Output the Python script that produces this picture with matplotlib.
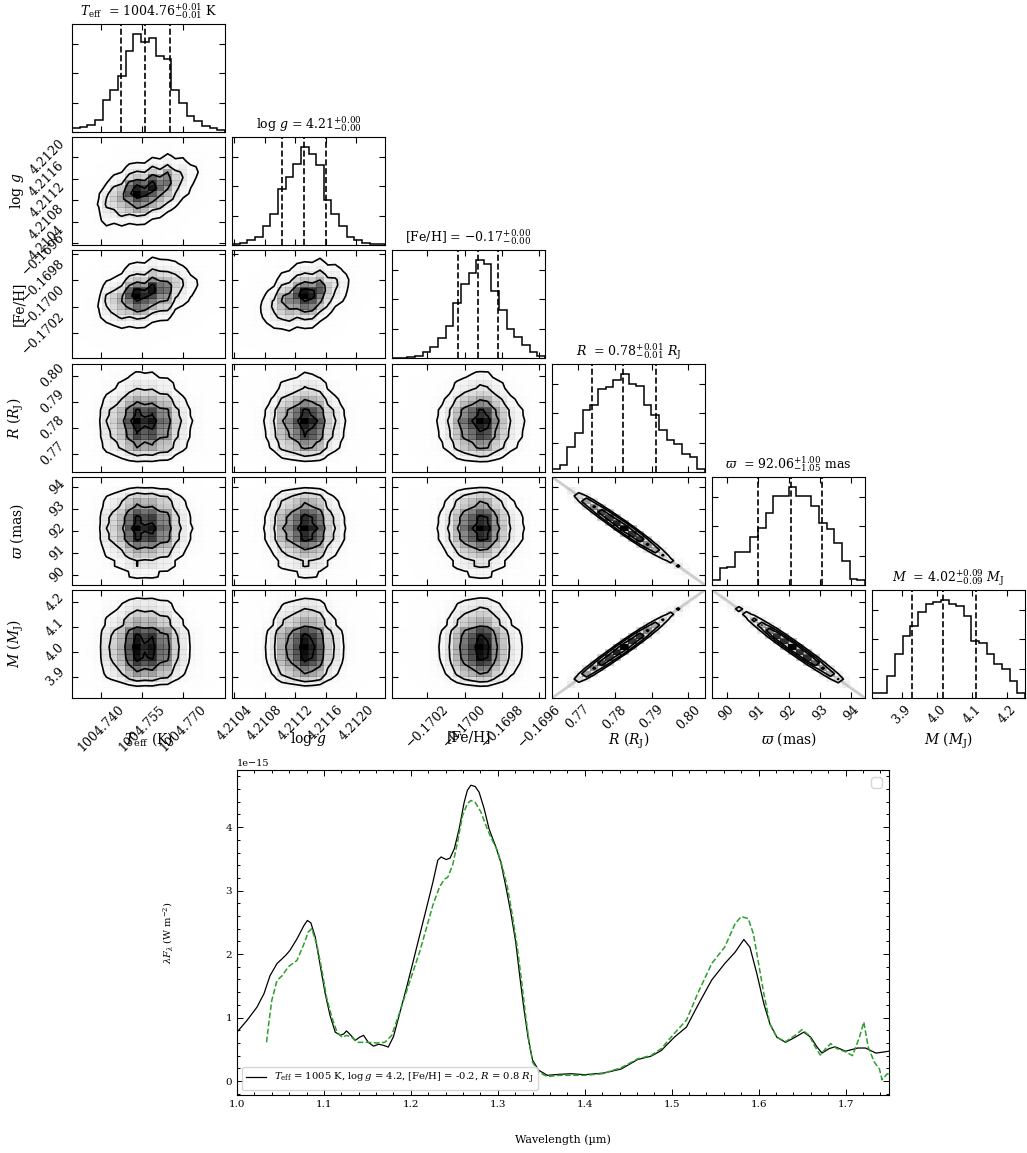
import numpy as np
import matplotlib
matplotlib.use("Agg")
import matplotlib.pyplot as plt
from matplotlib.colors import LinearSegmentedColormap, ListedColormap
from matplotlib.ticker import MaxNLocator, MultipleLocator

plt.rcParams.update({
    "font.family": "serif",
    "font.serif": ["DejaVu Serif"],
    "mathtext.fontset": "dejavuserif",
    "xtick.direction": "in",
    "ytick.direction": "in",
    "xtick.top": True,
    "ytick.right": True,
})

# ---------------- posterior summary (corner) ----------------
labels = [r"$T_{\rm eff}$ (K)", r"$\log\,g$", "[Fe/H]",
          r"$R$ ($R_{\rm J}$)", r"$\varpi$ (mas)", r"$M$ ($M_{\rm J}$)"]
titles = [r"$T_{\rm eff}$  = $1004.76^{+0.01}_{-0.01}$ K",
          r"$\log\,g$ = $4.21^{+0.00}_{-0.00}$",
          r"[Fe/H] = $-0.17^{+0.00}_{-0.00}$",
          r"$R$  = $0.78^{+0.01}_{-0.01}$ $R_{\rm J}$",
          r"$\varpi$  = $92.06^{+1.00}_{-1.05}$ mas",
          r"$M$  = $4.02^{+0.09}_{-0.09}$ $M_{\rm J}$"]

ranges = [(1004.7296, 1004.7851), (4.21037, 4.21238), (-0.17039, -0.16957),
          (0.7630, 0.8045), (89.53, 94.45), (3.815, 4.250)]

# 16th, 50th, 84th percentiles
quantiles = [(1004.7475, 1004.7561, 1004.7651),
             (4.21103, 4.21132, 4.21160),
             (-0.170037, -0.169928, -0.169823),
             (0.7738, 0.7823, 0.7912),
             (91.01, 92.06, 93.06),
             (3.930, 4.018, 4.110)]

ticks = [[1004.740, 1004.755, 1004.770],
         [4.2104, 4.2108, 4.2112, 4.2116, 4.2120],
         [-0.1702, -0.1700, -0.1698, -0.1696],
         [0.77, 0.78, 0.79, 0.80],
         [90, 91, 92, 93, 94],
         [3.9, 4.0, 4.1, 4.2]]
tick_labels = [["1004.740", "1004.755", "1004.770"],
               ["4.2104", "4.2108", "4.2112", "4.2116", "4.2120"],
               ["\u22120.1702", "\u22120.1700", "\u22120.1698", "\u22120.1696"],
               ["0.77", "0.78", "0.79", "0.80"],
               ["90", "91", "92", "93", "94"],
               ["3.9", "4.0", "4.1", "4.2"]]

# 20-bin marginal histograms (relative counts)
hist_teff = [0.044, 0.05, 0.07, 0.12, 0.33, 0.43, 0.57, 0.82, 1.0, 0.92,
             0.96, 0.77, 0.74, 0.43, 0.30, 0.16, 0.11, 0.06, 0.044, 0.02]
hist_logg = [0.01, 0.024, 0.05, 0.085, 0.19, 0.32, 0.57, 0.69, 0.83, 1.0,
             0.93, 0.81, 0.46, 0.32, 0.19, 0.085, 0.05, 0.024, 0.01, 0.007]
hist_feh = [0.0, 0.005, 0.015, 0.025, 0.06, 0.11, 0.2, 0.33, 0.56, 0.75,
            0.87, 1.0, 0.955, 0.68, 0.49, 0.30, 0.21, 0.13, 0.06, 0.025]
hist_radius = [0.034, 0.068, 0.254, 0.397, 0.627, 0.678, 0.847, 0.864, 0.932, 1.0,
               0.898, 0.881, 0.678, 0.576, 0.424, 0.322, 0.288, 0.186, 0.153, 0.034]
hist_plx = [0.048, 0.178, 0.185, 0.332, 0.332, 0.486, 0.579, 0.733, 0.908, 0.908,
            1.0, 0.908, 0.908, 0.801, 0.630, 0.572, 0.425, 0.247, 0.065, 0.055]
hist_mass = [0.051, 0.051, 0.223, 0.445, 0.634, 0.736, 0.873, 0.959, 0.976, 1.0,
             0.959, 0.932, 0.839, 0.582, 0.565, 0.445, 0.342, 0.291, 0.171, 0.051]
hists = [hist_teff, hist_logg, hist_feh, hist_radius, hist_plx, hist_mass]

# tilt of the joint distributions (y-bins per x-bin); missing = uncorrelated
tilts = {(1, 0): 0.45, (2, 0): 0.3, (2, 1): 0.45}
# pairs locked to a tight line: +1 rising, -1 falling
linear_pairs = {(4, 3): -1, (5, 3): 1, (5, 4): -1}

# ---------------- spectrum (flux in 1e-15 W m^-2) ----------------
wave_model = [1.000, 1.0115, 1.023, 1.031, 1.038, 1.046, 1.056, 1.061, 1.069, 1.077,
              1.081, 1.085, 1.090, 1.096, 1.1015, 1.107, 1.113, 1.119, 1.123, 1.126,
              1.131, 1.136, 1.141, 1.1456, 1.151, 1.157, 1.163, 1.169, 1.174, 1.180,
              1.187, 1.1947, 1.2024, 1.210, 1.2177, 1.2253, 1.231, 1.2348, 1.2405, 1.245,
              1.250, 1.2555, 1.2613, 1.265, 1.269, 1.274, 1.2785, 1.2843, 1.290, 1.2977,
              1.3034, 1.309, 1.3149, 1.3206, 1.3252, 1.330, 1.335, 1.340, 1.347, 1.357,
              1.370, 1.384, 1.400, 1.422, 1.442, 1.461, 1.476, 1.488, 1.503, 1.517,
              1.530, 1.546, 1.561, 1.573, 1.583, 1.590, 1.598, 1.606, 1.613, 1.621,
              1.631, 1.642, 1.652, 1.660, 1.667, 1.673, 1.681, 1.688, 1.700, 1.714,
              1.723, 1.735, 1.750]
flux_model = [0.77, 0.955, 1.165, 1.375, 1.66, 1.85, 1.98, 2.06, 2.24, 2.45,
              2.53, 2.49, 2.27, 1.80, 1.375, 1.035, 0.77, 0.72, 0.745, 0.79,
              0.72, 0.64, 0.69, 0.72, 0.61, 0.55, 0.58, 0.56, 0.535, 0.70,
              1.06, 1.455, 1.87, 2.29, 2.71, 3.13, 3.48, 3.53, 3.49, 3.51,
              3.66, 3.97, 4.39, 4.58, 4.66, 4.64, 4.55, 4.29, 3.97, 3.69,
              3.45, 3.08, 2.66, 2.19, 1.66, 1.14, 0.67, 0.33, 0.17, 0.09,
              0.105, 0.115, 0.10, 0.126, 0.19, 0.34, 0.39, 0.48, 0.69, 0.85,
              1.19, 1.59, 1.85, 2.03, 2.23, 2.11, 1.69, 1.22, 0.90, 0.69,
              0.61, 0.69, 0.77, 0.69, 0.54, 0.44, 0.51, 0.54, 0.47, 0.52,
              0.52, 0.44, 0.47]

wave_obs = [1.034, 1.036, 1.040, 1.046, 1.052, 1.059, 1.069, 1.077, 1.082, 1.086,
            1.092, 1.098, 1.103, 1.109, 1.115, 1.121, 1.126, 1.132, 1.138, 1.149,
            1.161, 1.170, 1.178, 1.187, 1.1947, 1.2024, 1.210, 1.2177, 1.2253, 1.233,
            1.2386, 1.2424, 1.248, 1.2536, 1.2594, 1.265, 1.269, 1.274, 1.2805, 1.2862,
            1.292, 1.2996, 1.3053, 1.311, 1.3168, 1.3226, 1.3275, 1.332, 1.336, 1.340,
            1.347, 1.357, 1.370, 1.384, 1.400, 1.420, 1.442, 1.461, 1.476, 1.488,
            1.503, 1.517, 1.530, 1.546, 1.561, 1.573, 1.580, 1.588, 1.594, 1.600,
            1.606, 1.613, 1.621, 1.631, 1.642, 1.650, 1.658, 1.665, 1.671, 1.677,
            1.683, 1.690, 1.700, 1.708, 1.716, 1.721, 1.726, 1.733, 1.739, 1.742,
            1.748, 1.750]
flux_obs = [0.61, 0.85, 1.27, 1.585, 1.66, 1.80, 1.90, 2.16, 2.35, 2.40,
            2.14, 1.72, 1.32, 1.01, 0.77, 0.69, 0.72, 0.69, 0.61, 0.61,
            0.60, 0.61, 0.72, 1.08, 1.40, 1.72, 2.03, 2.40, 2.77, 3.06,
            3.18, 3.21, 3.40, 3.76, 4.18, 4.37, 4.42, 4.39, 4.24, 4.03,
            3.84, 3.63, 3.37, 3.06, 2.61, 2.09, 1.56, 1.03, 0.62, 0.30,
            0.14, 0.07, 0.09, 0.09, 0.09, 0.115, 0.21, 0.35, 0.40, 0.51,
            0.75, 0.96, 1.38, 1.85, 2.11, 2.48, 2.59, 2.56, 2.32, 1.85,
            1.38, 0.90, 0.69, 0.62, 0.72, 0.81, 0.72, 0.54, 0.41, 0.51,
            0.59, 0.51, 0.46, 0.40, 0.69, 0.93, 0.54, 0.30, 0.19, 0.02,
            0.115, 0.105]

model_label = (r"$T_{\rm eff}$ = 1005 K, $\log g$ = 4.2, [Fe/H] = -0.2, "
               r"$R$ = 0.8 $R_{\rm J}$")

# ---------------- helpers ----------------
sigma_levels = 1.0 - np.exp(-0.5 * np.array([0.5, 1.0, 1.5, 2.0]) ** 2)
density_cmap = LinearSegmentedColormap.from_list("density", ["k", (1, 1, 1, 0)])
white_cmap = ListedColormap(["white", "white"], N=2)


def joint_grid(i, j):
    hx = np.asarray(hists[j], float)
    hy = np.asarray(hists[i], float)
    n = len(hx)
    if (i, j) in linear_pairs:
        # samples lie along the diagonal and spill into the neighbouring cells
        side = 0.25 * (hx[:-1] + hx[1:])
        H = np.diag(hx) + np.diag(side, 1) + np.diag(side, -1)
        if linear_pairs[(i, j)] < 0:
            H = H[:, ::-1]
        return H
    t = tilts.get((i, j), 0.0)
    pivot = int(np.argmax(hx))
    H = np.zeros((n, n))
    for k in range(n):
        s = int(round(t * (k - pivot)))
        col = np.zeros(n)
        if s >= 0:
            col[s:] = hy[:n - s]
        else:
            col[:n + s] = hy[-s:]
        H[k] = hx[k] * col
    return H


def draw_joint(ax, H, xr, yr):
    X = np.linspace(*xr, H.shape[0] + 1)
    Y = np.linspace(*yr, H.shape[1] + 1)

    flat = np.sort(H.ravel())[::-1]
    cum = np.cumsum(flat) / flat.sum()
    V = np.empty(len(sigma_levels))
    for k, lv in enumerate(sigma_levels):
        sel = flat[cum <= lv]
        V[k] = sel[-1] if len(sel) else flat[0]
    V.sort()
    dup = np.diff(V) == 0
    while np.any(dup):
        V[np.where(dup)[0][0]] *= 1.0 - 1e-4
        V.sort()
        dup = np.diff(V) == 0

    X1 = 0.5 * (X[1:] + X[:-1])
    Y1 = 0.5 * (Y[1:] + Y[:-1])
    H2 = H.min() + np.zeros((H.shape[0] + 4, H.shape[1] + 4))
    H2[2:-2, 2:-2] = H
    H2[2:-2, 1] = H[:, 0]
    H2[2:-2, -2] = H[:, -1]
    H2[1, 2:-2] = H[0]
    H2[-2, 2:-2] = H[-1]
    H2[1, 1] = H[0, 0]
    H2[1, -2] = H[0, -1]
    H2[-2, 1] = H[-1, 0]
    H2[-2, -2] = H[-1, -1]
    X2 = np.concatenate([X1[0] + np.array([-2, -1]) * np.diff(X1[:2]), X1,
                         X1[-1] + np.array([1, 2]) * np.diff(X1[-2:])])
    Y2 = np.concatenate([Y1[0] + np.array([-2, -1]) * np.diff(Y1[:2]), Y1,
                         Y1[-1] + np.array([1, 2]) * np.diff(Y1[-2:])])

    ax.contourf(X2, Y2, H2.T, [V.min(), H.max()], cmap=white_cmap, antialiased=False)
    ax.pcolor(X, Y, H.max() - H.T, cmap=density_cmap)
    ax.contour(X2, Y2, H2.T, V, colors="k", linewidths=1.2)


# ---------------- figure ----------------
W, HGT = 1027, 1153
fig = plt.figure(figsize=(W / 100, HGT / 100), dpi=100)

col_left = [72, 232, 392, 552, 712, 872]
row_top = [24, 137, 250, 364, 477, 590]
pw, ph = 153, 108
ndim = len(labels)

for i in range(ndim):
    for j in range(i + 1):
        ax = fig.add_axes([col_left[j] / W, 1 - (row_top[i] + ph) / HGT, pw / W, ph / HGT])
        ax.tick_params(which="both", labelsize=9, length=4, width=0.8)
        if i == j:
            edges = np.linspace(*ranges[i], len(hists[i]) + 1)
            ax.stairs(hists[i], edges, color="k", lw=1.1)
            for q in quantiles[i]:
                ax.axvline(q, ls="--", color="k", lw=1.2)
            ax.set_ylim(0, 1.1 * max(hists[i]))
            ax.yaxis.set_major_locator(MaxNLocator(4))
            ax.set_yticklabels([])
            ax.set_title(titles[i], fontsize=9)
        else:
            H = joint_grid(i, j)
            if (i, j) in linear_pairs:
                ys = ranges[i] if linear_pairs[(i, j)] > 0 else ranges[i][::-1]
                ax.plot(ranges[j], ys, color="0.55", alpha=0.45, lw=2.0, zorder=0)
            draw_joint(ax, H, ranges[j], ranges[i])
            ax.set_ylim(*ranges[i])
            ax.set_yticks(ticks[i])
            if j == 0:
                ax.set_yticklabels(tick_labels[i], rotation=45, va="center")
                ax.set_ylabel(labels[i], fontsize=10)
                ax.yaxis.set_label_coords(-0.3, 0.5)
            else:
                ax.set_yticklabels([])
        ax.set_xlim(*ranges[j])
        ax.set_xticks(ticks[j])
        if i == ndim - 1:
            ax.set_xticklabels(tick_labels[j], rotation=45, ha="center")
            ax.set_xlabel(labels[j], fontsize=10)
            ax.xaxis.set_label_coords(0.5, -0.3)
        else:
            ax.set_xticklabels([])

# spectrum comparison
ax = fig.add_axes([237 / W, 1 - 1095 / HGT, (889 - 237) / W, (1095 - 770) / HGT])
ax.plot(wave_model, np.array(flux_model) * 1e-15, color="k", lw=0.9, label=model_label)
ax.plot(wave_obs, np.array(flux_obs) * 1e-15, color="#2ca02c", ls="--", lw=1.1)
ax.set_xlim(1.0, 1.75)
ax.set_ylim(-0.22e-15, 4.9e-15)
ax.xaxis.set_major_locator(MultipleLocator(0.1))
ax.xaxis.set_minor_locator(MultipleLocator(0.02))
ax.yaxis.set_major_locator(MultipleLocator(1e-15))
ax.yaxis.set_minor_locator(MultipleLocator(0.2e-15))
ax.tick_params(which="both", labelsize=7.5, width=0.7)
ax.tick_params(which="major", length=4)
ax.tick_params(which="minor", length=2)
ax.yaxis.get_offset_text().set_fontsize(7)
ax.set_xlabel("Wavelength (\u00b5m)", fontsize=8)
ax.xaxis.set_label_coords(0.5, -0.12)
ax.set_ylabel(r"$\lambda F_\lambda$ (W m$^{-2}$)", fontsize=7)
ax.yaxis.set_label_coords(-0.095, 0.5)
leg = ax.legend(loc="lower left", fontsize=7.2)
ax.add_artist(leg)
ax.legend(handles=[], loc="upper right")

fig.savefig("out.png", dpi=100)
